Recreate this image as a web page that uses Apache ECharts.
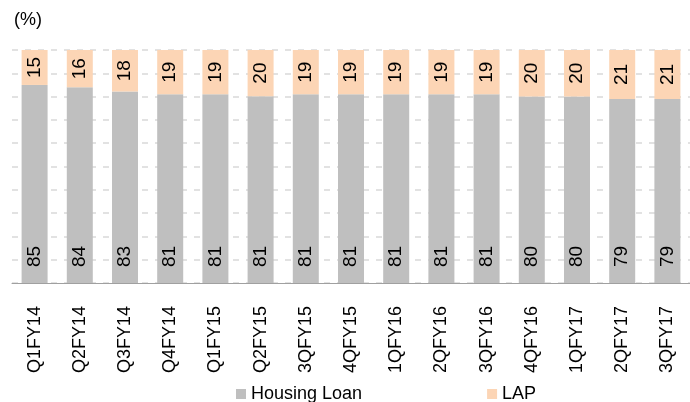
<!DOCTYPE html>
<html lang="en">
  <head>
    <meta charset="UTF-8" />
    <title>Housing Loan vs LAP</title>
    <script src="https://cdn.jsdelivr.net/npm/echarts@6/dist/echarts.min.js"></script>
    <style>
      html, body { margin: 0; padding: 0; background: #fff; }
      #main { width: 690px; height: 402px; }
    </style>
  </head>
  <body>
    <div id="main"></div>
  </body>
  <script>
    // quarters
    const quarters = [
      "Q1FY14", "Q2FY14", "Q3FY14", "Q4FY14", "Q1FY15", "Q2FY15", "3QFY15",
      "4QFY15", "1QFY16", "2QFY16", "3QFY16", "4QFY16", "1QFY17", "2QFY17", "3QFY17",
    ];
    // share of loan book (%)
    const housingLoan = [85, 84, 83, 81, 81, 81, 81, 81, 81, 81, 81, 80, 80, 79, 79];
    const lap = [15, 16, 18, 19, 19, 20, 19, 19, 19, 19, 19, 20, 20, 21, 21];

    // 100% stacked: scale each bar to its total
    function toPct(list) {
      return list.map(function (v, i) {
        return (v / (housingLoan[i] + lap[i])) * 100;
      });
    }

    const font = "'Liberation Sans', Arial, sans-serif";
    var myChart = echarts.init(document.getElementById("main"));
    var option = {
      animation: false,
      title: {
        text: "(%)",
        left: 9,
        top: 6,
        textStyle: { fontSize: 18, fontWeight: "normal", color: "#000", fontFamily: font },
      },
      legend: {
        left: 231,
        top: 380,
        itemWidth: 10,
        itemHeight: 10,
        itemGap: 125,
        icon: "rect",
        textStyle: { fontSize: 18, color: "#000", fontFamily: font },
        data: ["Housing Loan", "LAP"],
      },
      grid: { left: 12, right: -5, top: 50, bottom: 119 },
      xAxis: {
        type: "category",
        data: quarters,
        axisLine: { lineStyle: { color: "#a0a0a0", width: 1 } },
        axisTick: { length: 6, lineStyle: { color: "#a0a0a0" } },
        axisLabel: {
          rotate: 90,
          margin: 23,
          fontSize: 18,
          color: "#000",
          fontFamily: font,
        },
      },
      yAxis: {
        type: "value",
        min: 0,
        max: 100,
        interval: 10,
        axisLine: { show: false },
        axisTick: { show: false },
        axisLabel: { show: false },
        splitLine: {
          lineStyle: { color: "#d9d9d9", type: [6, 7], width: 1.5 },
        },
      },
      series: [
        {
          name: "Housing Loan",
          type: "bar",
          stack: "total",
          barWidth: 26,
          data: toPct(housingLoan),
          itemStyle: { color: "#bfbfbf" },
          label: {
            show: true,
            position: "insideBottom",
            distance: 16,
            rotate: 90,
            align: "left",
            verticalAlign: "middle",
            fontSize: 19,
            color: "#000",
            fontFamily: font,
            formatter: function (p) {
              return housingLoan[p.dataIndex];
            },
          },
        },
        {
          name: "LAP",
          type: "bar",
          stack: "total",
          barWidth: 26,
          data: toPct(lap),
          itemStyle: { color: "#fcd5b5" },
          label: {
            show: true,
            position: "inside",
            rotate: 90,
            fontSize: 19,
            color: "#000",
            fontFamily: font,
            formatter: function (p) {
              return lap[p.dataIndex];
            },
          },
        },
      ],
    };
    myChart.setOption(option);
  </script>
</html>
